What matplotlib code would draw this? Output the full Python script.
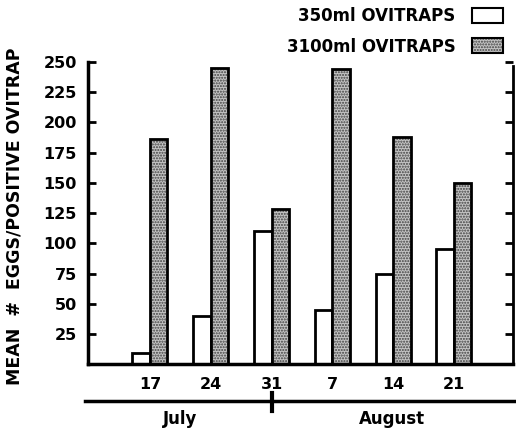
import numpy as np
import matplotlib
matplotlib.use("Agg")
import matplotlib.pyplot as plt
from matplotlib.patches import Patch

plt.rcParams['font.family'] = ['DejaVu Sans']
plt.rcParams['font.weight'] = 'bold'

# weekly sampling dates
days = ['17', '24', '31', '7', '14', '21']
months = ['July', 'August']
small_traps = [9, 40, 110, 45, 75, 95]      # 350ml ovitraps
large_traps = [186, 245, 128, 244, 188, 150]  # 3100ml ovitraps
yticks = [25, 50, 75, 100, 125, 150, 175, 200, 225, 250]

fig = plt.figure(figsize=(5.16, 4.32), dpi=100)
ax = fig.add_axes([0.1705, 0.157, 0.8235, 0.6995])

x = np.arange(len(days))
w = 0.288

ax.bar(x - w / 2, small_traps, w, facecolor='white', edgecolor='black', linewidth=2)
# dotted grey fill, then a black outline on top
ax.bar(x + w / 2, large_traps, w, facecolor='#c4c4c4', edgecolor='#404040',
       hatch='......', linewidth=0)
ax.bar(x + w / 2, large_traps, w, fill=False, edgecolor='black', linewidth=2)

ax.set_xlim(-1.02, 5.97)
ax.set_ylim(0, 250)

ax.spines['top'].set_visible(False)
for s in ['left', 'bottom']:
    ax.spines[s].set_linewidth(2.5)
ax.spines['right'].set_linewidth(2)
ax.spines['right'].set_bounds(0, 247)

ax.set_yticks(yticks)
ax.tick_params(axis='y', direction='in', length=6, width=2, labelsize=11.5,
               pad=8, right=True)
ax.set_xticks(x)
ax.set_xticklabels(days)
ax.tick_params(axis='x', length=0, labelsize=11.5, pad=9)
for lab in ax.get_xticklabels() + ax.get_yticklabels():
    lab.set_fontweight('bold')

ax.set_ylabel('MEAN  #  EGGS/POSITIVE OVITRAP', fontsize=12.5, fontweight='bold')
ax.yaxis.set_label_coords(-0.152, 0.49)

# month bar under the dates
tr = ax.get_xaxis_transform()
ax.plot([-1.07, 6.02], [-0.1225, -0.1225], color='black', lw=2.5,
        transform=tr, clip_on=False)
ax.plot([2, 2], [-0.096, -0.156], color='black', lw=3,
        transform=tr, clip_on=False)
ax.text(0.49, -0.183, months[0], transform=tr, ha='center', va='center',
        fontsize=12, fontweight='bold')
ax.text(3.98, -0.183, months[1], transform=tr, ha='center', va='center',
        fontsize=12, fontweight='bold')

h_small = Patch(facecolor='white', edgecolor='black', linewidth=1.5)
h_large = (Patch(facecolor='#c4c4c4', edgecolor='#404040', hatch='......', linewidth=0),
           Patch(fill=False, edgecolor='black', linewidth=1.5))
fig.legend([h_small, h_large], ['350ml OVITRAPS', '3100ml OVITRAPS'],
           loc='upper right', bbox_to_anchor=(1.004, 1.0185), frameon=False,
           markerfirst=False, handlelength=1.85, handleheight=1.0,
           labelspacing=0.75, handletextpad=1.0,
           prop={'weight': 'bold', 'size': 12})

fig.savefig('out.png', dpi=100)
